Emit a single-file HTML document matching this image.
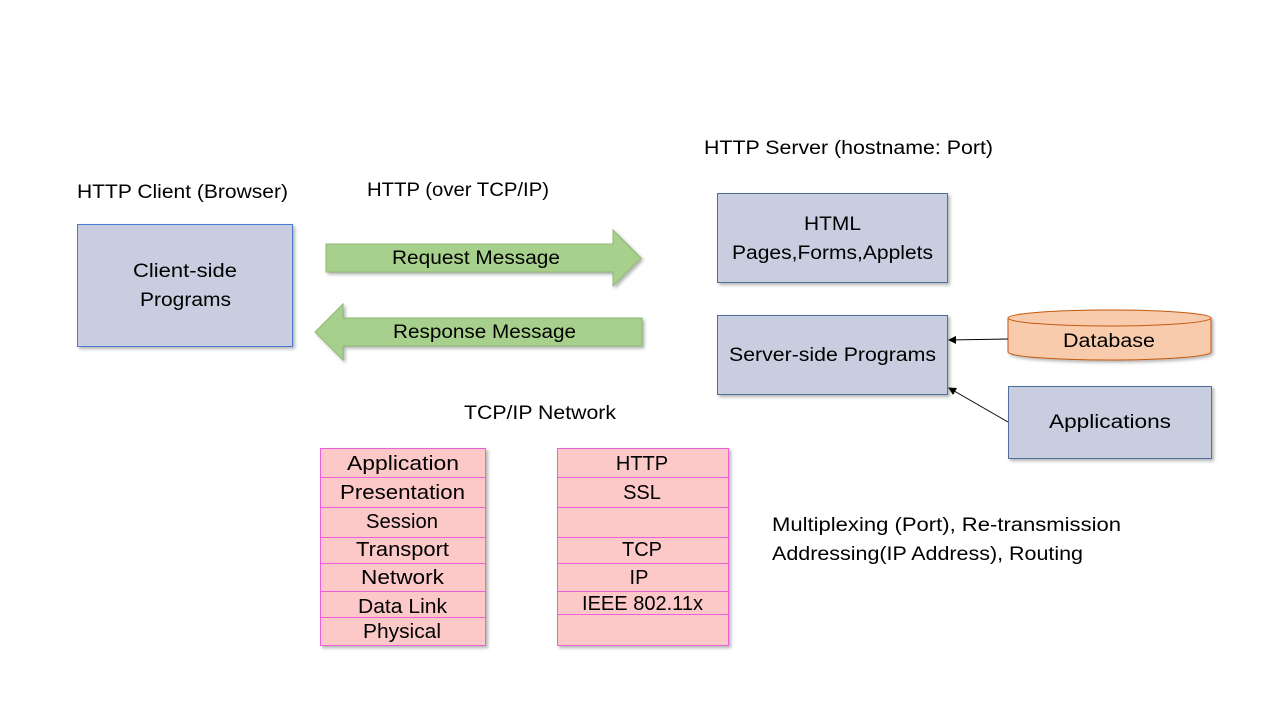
<!DOCTYPE html>
<html><head><meta charset="utf-8"><style>
html,body{margin:0;padding:0;background:#fff}
svg{display:block}
text{font-family:"Liberation Sans",sans-serif;font-size:19px;fill:#000}
.st{font-size:20px}
</style></head><body>
<svg width="1280" height="720" viewBox="0 0 1280 720" xmlns="http://www.w3.org/2000/svg">
<defs>
<filter id="sh" x="-10%" y="-10%" width="130%" height="130%"><feDropShadow dx="2" dy="2" stdDeviation="1.5" flood-color="#000" flood-opacity="0.3"/></filter>
<marker id="ah" markerWidth="8" markerHeight="8" refX="7" refY="4" orient="auto" markerUnits="userSpaceOnUse"><path d="M0,0 L8,4 L0,8 z" fill="#000"/></marker>
</defs>

<text x="77" y="198" textLength="211" lengthAdjust="spacingAndGlyphs">HTTP Client (Browser)</text>
<text x="367" y="196" textLength="182" lengthAdjust="spacingAndGlyphs">HTTP (over TCP/IP)</text>
<text x="704" y="154" textLength="289" lengthAdjust="spacingAndGlyphs">HTTP Server (hostname: Port)</text>

<rect x="77.5" y="224.5" width="215" height="122" fill="#c8cee0" stroke="#4a7bd0" filter="url(#sh)"/>
<text x="133" y="277" textLength="104" lengthAdjust="spacingAndGlyphs">Client-side</text>
<text x="140" y="306" textLength="91" lengthAdjust="spacingAndGlyphs">Programs</text>

<path d="M326,244 L613,244 L613,230 L641,258 L613,286 L613,272 L326,272 Z" fill="#a8d08d" stroke="#8fb874" filter="url(#sh)"/>
<text x="392" y="264" textLength="168" lengthAdjust="spacingAndGlyphs">Request Message</text>
<path d="M642,318 L343,318 L343,304 L315,332 L343,360 L343,346 L642,346 Z" fill="#a8d08d" stroke="#8fb874" filter="url(#sh)"/>
<text x="393" y="338" textLength="183" lengthAdjust="spacingAndGlyphs">Response Message</text>

<rect x="717.5" y="193.5" width="230" height="89" fill="#c8cee0" stroke="#4f6f9a" filter="url(#sh)"/>
<text x="804" y="230" textLength="57" lengthAdjust="spacingAndGlyphs">HTML</text>
<text x="732" y="259" textLength="201" lengthAdjust="spacingAndGlyphs">Pages,Forms,Applets</text>

<rect x="717.5" y="315.5" width="230" height="79" fill="#c8cee0" stroke="#4f6f9a" filter="url(#sh)"/>
<text x="729" y="361" textLength="207" lengthAdjust="spacingAndGlyphs">Server-side Programs</text>

<g filter="url(#sh)">
<path d="M1008,318 L1008,352 A101.5,8 0 0 0 1211,352 L1211,318 Z" fill="#f8cbad" stroke="#c55a11"/>
<ellipse cx="1109.5" cy="318" rx="101.5" ry="8" fill="#f8cbad" stroke="#c55a11"/>
</g>
<text x="1063" y="347" textLength="92" lengthAdjust="spacingAndGlyphs">Database</text>

<rect x="1008.5" y="386.5" width="203" height="72" fill="#c8cee0" stroke="#4f6f9a" filter="url(#sh)"/>
<text x="1049" y="428" textLength="122" lengthAdjust="spacingAndGlyphs">Applications</text>

<line x1="1008" y1="339" x2="949" y2="340" stroke="#000" stroke-width="1" marker-end="url(#ah)"/>
<line x1="1008" y1="422" x2="949" y2="388" stroke="#000" stroke-width="1" marker-end="url(#ah)"/>

<text x="464" y="419" textLength="152" lengthAdjust="spacingAndGlyphs">TCP/IP Network</text>

<g stroke="#ee5fd8" fill="#fcc8c8" filter="url(#sh)">
<rect x="320.5" y="448.5" width="165" height="29"/>
<rect x="320.5" y="477.5" width="165" height="30"/>
<rect x="320.5" y="507.5" width="165" height="30"/>
<rect x="320.5" y="537.5" width="165" height="26"/>
<rect x="320.5" y="563.5" width="165" height="28"/>
<rect x="320.5" y="591.5" width="165" height="26"/>
<rect x="320.5" y="617.5" width="165" height="28"/>
<rect x="557.5" y="448.5" width="171" height="29"/>
<rect x="557.5" y="477.5" width="171" height="30"/>
<rect x="557.5" y="507.5" width="171" height="30"/>
<rect x="557.5" y="537.5" width="171" height="26"/>
<rect x="557.5" y="563.5" width="171" height="28"/>
<rect x="557.5" y="591.5" width="171" height="23"/>
<rect x="557.5" y="614.5" width="171" height="31"/>
</g>
<g class="st">
<text x="347" y="470" class="st" textLength="112" lengthAdjust="spacingAndGlyphs">Application</text>
<text x="340" y="499" class="st" textLength="125" lengthAdjust="spacingAndGlyphs">Presentation</text>
<text x="366" y="528" class="st" textLength="72" lengthAdjust="spacingAndGlyphs">Session</text>
<text x="356" y="556" class="st" textLength="93" lengthAdjust="spacingAndGlyphs">Transport</text>
<text x="361" y="584" class="st" textLength="83" lengthAdjust="spacingAndGlyphs">Network</text>
<text x="358" y="613" class="st" textLength="89" lengthAdjust="spacingAndGlyphs">Data Link</text>
<text x="363" y="638" class="st" textLength="78" lengthAdjust="spacingAndGlyphs">Physical</text>
<g text-anchor="middle">
<text x="642" y="470" class="st">HTTP</text>
<text x="642" y="499" class="st">SSL</text>
<text x="642" y="556" class="st">TCP</text>
<text x="639" y="584" class="st">IP</text>
</g>
<text x="582" y="610" class="st" textLength="121" lengthAdjust="spacingAndGlyphs">IEEE 802.11x</text>
</g>

<text x="772" y="531" textLength="349" lengthAdjust="spacingAndGlyphs">Multiplexing (Port), Re-transmission</text>
<text x="772" y="560" textLength="311" lengthAdjust="spacingAndGlyphs">Addressing(IP Address), Routing</text>
</svg>
</body></html>
